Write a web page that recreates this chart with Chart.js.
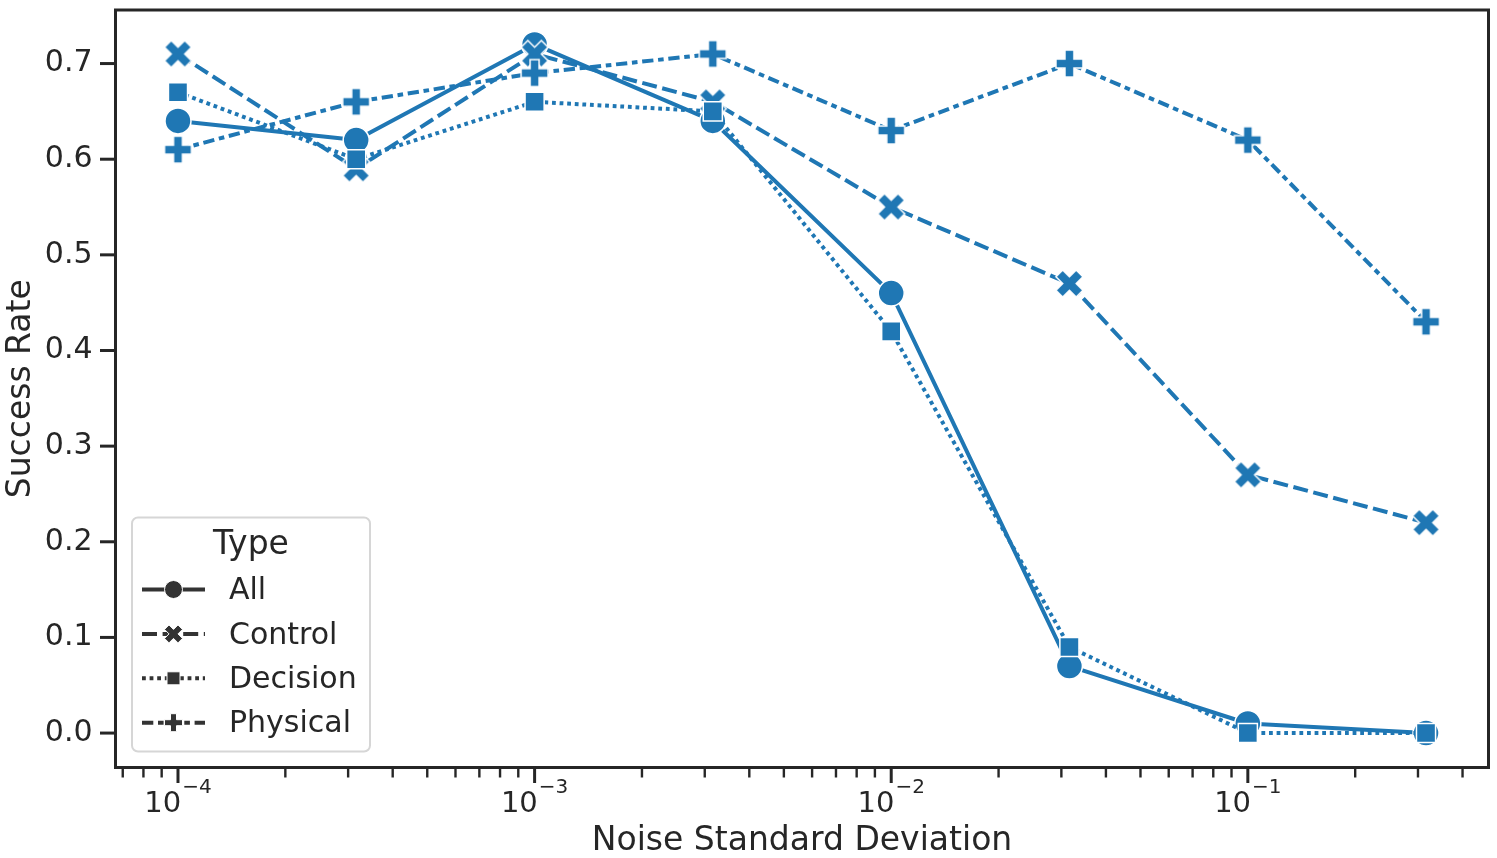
<!DOCTYPE html>
<html>
<head>
<meta charset="utf-8">
<script src="https://cdn.jsdelivr.net/npm/chart.js@4.4.1/dist/chart.umd.min.js"></script>
<style>
  html, body { margin: 0; padding: 0; background: #fff; }
  #wrap { width: 1497px; height: 858px; }
</style>
</head>
<body>
<div id="wrap"><canvas id="noiseChart" width="1497" height="858"></canvas></div>
<script>
// data
const noiseStd = [1e-4, 3.16e-4, 1e-3, 3.16e-3, 1e-2, 3.16e-2, 1e-1, 3.16e-1]
const typeNames = ['All', 'Control', 'Decision', 'Physical']
const allRate = [0.64, 0.62, 0.72, 0.64, 0.46, 0.07, 0.01, 0.00]
const controlRate = [0.71, 0.59, 0.71, 0.66, 0.55, 0.47, 0.27, 0.22]
const decisionRate = [0.67, 0.60, 0.66, 0.65, 0.42, 0.09, 0.00, 0.00]
const physicalRate = [0.61, 0.66, 0.69, 0.71, 0.63, 0.70, 0.62, 0.43]
const yTickValues = [0.0, 0.1, 0.2, 0.3, 0.4, 0.5, 0.6, 0.7]
const xDecades = [-5, -4, -3, -2, -1, 0]

const blue = '#1f77b4'
const ink = '#262626'
const handleInk = '#333333'
const font = 'DejaVu Sans'

Chart.defaults.font.family = font
Chart.defaults.color = ink

// filled X and plus markers, same outlines matplotlib uses
const xPath = [[-1,-2],[0,-1],[1,-2],[2,-1],[1,0],[2,1],[1,2],[0,1],[-1,2],[-2,1],[-1,0],[-2,-1]].map(p => [p[0] / 4, p[1] / 4])
const plusPath = [[-1,-3],[1,-3],[1,-1],[3,-1],[3,1],[1,1],[1,3],[-1,3],[-1,1],[-3,1],[-3,-1],[-1,-1]].map(p => [p[0] / 6, p[1] / 6])

function tracePoly(g, pts, cx, cy, size) {
    g.beginPath()
    pts.forEach((p, i) => {
        const px = cx + p[0] * size, py = cy + p[1] * size
        if (i) g.lineTo(px, py); else g.moveTo(px, py)
    })
    g.closePath()
}

function markerCanvas(pts, size, fill, edgeW) {
    const c = document.createElement('canvas')
    c.width = c.height = Math.ceil(size) + 6
    const g = c.getContext('2d')
    tracePoly(g, pts, c.width / 2, c.height / 2, size)
    g.fillStyle = fill
    g.fill()
    if (edgeW) {
        g.strokeStyle = '#fff'
        g.lineWidth = edgeW
        g.lineJoin = 'miter'
        g.stroke()
    }
    return c
}

const styles = [
    { dash: [], point: 'circle', radius: 13 },
    { dash: [15, 5.6], point: markerCanvas(xPath, 27, blue, 1.5), radius: 13 },
    { dash: [3.8, 3.8], point: 'rect', radius: 13.5 },
    { dash: [11.3, 4.7, 5.6, 4.7], point: markerCanvas(plusPath, 27, blue, 1.5), radius: 13 }
]
const legendMarks = ['circle', 'X', 'rect', 'plus']

const seriesRates = [allRate, controlRate, decisionRate, physicalRate]
const datasets = seriesRates.map((rates, i) => ({
    label: typeNames[i],
    data: noiseStd.map((x, j) => ({ x: x, y: rates[j] })),
    borderColor: blue,
    backgroundColor: blue,
    borderWidth: 4,
    borderDash: styles[i].dash,
    borderCapStyle: 'butt',
    borderJoinStyle: 'round',
    pointStyle: styles[i].point,
    pointRadius: styles[i].radius,
    pointBackgroundColor: blue,
    pointBorderColor: '#fff',
    pointBorderWidth: 1.5,
    tension: 0,
    fill: false,
    order: seriesRates.length - i
}))

// spines, tick marks and the 10^n tick labels
const axisDecor = {
    id: 'axisDecor',
    afterDatasetsDraw(chart) {
        const { ctx, chartArea: a, scales: { x, y } } = chart
        ctx.save()
        ctx.strokeStyle = ink
        ctx.lineCap = 'butt'
        x.ticks.forEach(t => {
            const px = x.getPixelForValue(t.value)
            if (px < a.left - 1 || px > a.right + 1) return
            ctx.lineWidth = t.major ? 3 : 2.4
            ctx.beginPath()
            ctx.moveTo(px, a.bottom)
            ctx.lineTo(px, a.bottom + (t.major ? 15.5 : 10))
            ctx.stroke()
        })
        y.ticks.forEach(t => {
            const py = y.getPixelForValue(t.value)
            ctx.lineWidth = 3
            ctx.beginPath()
            ctx.moveTo(a.left, py)
            ctx.lineTo(a.left - 15.5, py)
            ctx.stroke()
        })
        ctx.lineWidth = 3
        ctx.lineJoin = 'miter'
        ctx.strokeRect(a.left, a.top, a.right - a.left, a.bottom - a.top)

        // 10 with a raised exponent, centred on the tick
        ctx.fillStyle = ink
        ctx.textBaseline = 'alphabetic'
        ctx.textAlign = 'left'
        x.ticks.filter(t => t.major).forEach(t => {
            const px = x.getPixelForValue(t.value)
            const exp = '\u2212' + Math.abs(Math.round(Math.log10(t.value)))
            ctx.font = '29px "' + font + '"'
            const wBase = ctx.measureText('10').width
            ctx.font = '20px "' + font + '"'
            const wExp = ctx.measureText(exp).width
            const x0 = px - (wBase + 1 + wExp) / 2
            ctx.font = '29px "' + font + '"'
            ctx.fillText('10', x0, a.bottom + 44.5)
            ctx.font = '20px "' + font + '"'
            ctx.fillText(exp, x0 + wBase + 1, a.bottom + 25.5)
        })
        ctx.restore()
    }
}

function drawHandleMark(ctx, kind, cx, cy) {
    ctx.fillStyle = handleInk
    ctx.strokeStyle = '#fff'
    ctx.lineWidth = 1
    ctx.setLineDash([])
    if (kind === 'circle') {
        ctx.beginPath()
        ctx.arc(cx, cy, 9, 0, Math.PI * 2)
    } else if (kind === 'rect') {
        ctx.beginPath()
        ctx.rect(cx - 6.5, cy - 6.5, 13, 13)
    } else {
        tracePoly(ctx, kind === 'X' ? xPath : plusPath, cx, cy, 18)
    }
    ctx.fill()
    ctx.stroke()
}

// seaborn style legend: line sample with marker in the middle
const typeLegend = {
    id: 'typeLegend',
    afterDraw(chart) {
        const { ctx, chartArea: a } = chart
        const bx = a.left + 16.5, bw = 238, bh = 234
        const by = a.bottom - 16 - bh
        const r = 6
        ctx.save()
        ctx.beginPath()
        ctx.moveTo(bx + r, by)
        ctx.arcTo(bx + bw, by, bx + bw, by + bh, r)
        ctx.arcTo(bx + bw, by + bh, bx, by + bh, r)
        ctx.arcTo(bx, by + bh, bx, by, r)
        ctx.arcTo(bx, by, bx + bw, by, r)
        ctx.closePath()
        ctx.fillStyle = 'rgba(255,255,255,0.8)'
        ctx.fill()
        ctx.strokeStyle = '#d6d6d6'
        ctx.lineWidth = 2
        ctx.stroke()

        ctx.fillStyle = ink
        ctx.textBaseline = 'middle'
        ctx.textAlign = 'center'
        ctx.font = '33px "' + font + '"'
        ctx.fillText('Type', bx + bw / 2, by + 27.5)

        ctx.font = '30px "' + font + '"'
        ctx.textAlign = 'left'
        typeNames.forEach((name, i) => {
            const cy = by + 72 + i * 44.4
            ctx.strokeStyle = handleInk
            ctx.lineWidth = 4
            ctx.lineCap = 'butt'
            ctx.setLineDash(styles[i].dash)
            ctx.beginPath()
            ctx.moveTo(bx + 10, cy)
            ctx.lineTo(bx + 73, cy)
            ctx.stroke()
            drawHandleMark(ctx, legendMarks[i], bx + 41.5, cy)
            ctx.fillStyle = ink
            ctx.fillText(name, bx + 97, cy + 2)
        })
        ctx.restore()
    }
}

new Chart(document.getElementById('noiseChart'), {
    type: 'line',
    data: { datasets: datasets },
    plugins: [axisDecor, typeLegend],
    options: {
        responsive: false,
        animation: false,
        events: [],
        layout: { autoPadding: false, padding: { top: 10, right: 8.5, left: 0, bottom: 0 } },
        plugins: {
            legend: { display: false },
            tooltip: { enabled: false }
        },
        scales: {
            x: {
                type: 'logarithmic',
                min: 6.68e-5,
                max: 0.473,
                afterBuildTicks: scale => {
                    const ticks = []
                    xDecades.forEach(e => {
                        for (let m = 1; m <= 9; m++) {
                            const v = m * Math.pow(10, e)
                            if (v >= scale.min && v <= scale.max) ticks.push({ value: v, major: m === 1 })
                        }
                    })
                    scale.ticks = ticks
                },
                afterFit: scale => {
                    scale.height = 90.5
                    scale.paddingLeft = 0
                    scale.paddingRight = 0
                },
                grid: { display: true, drawOnChartArea: false, drawTicks: true, tickLength: 15, color: 'rgba(0,0,0,0)' },
                border: { display: false },
                ticks: {
                    autoSkip: false,
                    maxRotation: 0,
                    minRotation: 0,
                    callback: () => ''
                },
                title: {
                    display: true,
                    text: 'Noise Standard Deviation',
                    color: ink,
                    font: { size: 33, lineHeight: 1.12 },
                    padding: { top: 0, bottom: -2 }
                }
            },
            y: {
                min: -0.036,
                max: 0.756,
                afterBuildTicks: scale => {
                    scale.ticks = yTickValues.map(v => ({ value: v }))
                },
                afterFit: scale => {
                    scale.width = 115.5
                    scale.paddingTop = 0
                    scale.paddingBottom = 0
                },
                grid: { display: true, drawOnChartArea: false, drawTicks: true, tickLength: 15, color: 'rgba(0,0,0,0)' },
                border: { display: false },
                ticks: {
                    autoSkip: false,
                    padding: 8,
                    font: { size: 30 },
                    color: ink,
                    callback: value => value.toFixed(1)
                },
                title: {
                    display: true,
                    text: 'Success Rate',
                    color: ink,
                    font: { size: 33, lineHeight: 1.12 },
                    padding: { top: 3, bottom: 0 }
                }
            }
        }
    }
})
</script>
</body>
</html>
